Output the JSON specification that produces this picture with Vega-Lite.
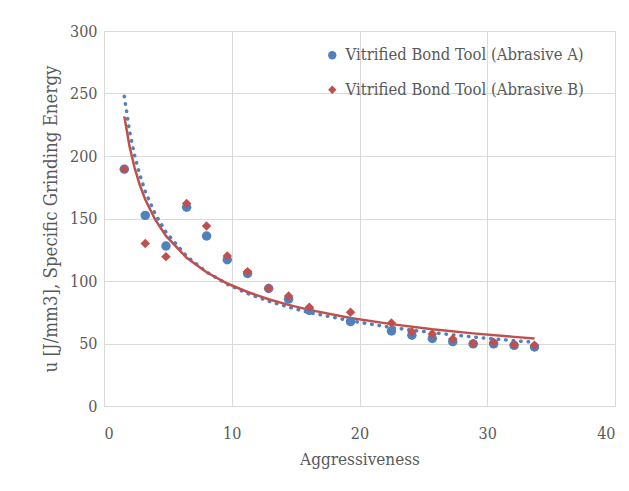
{
  "$schema": "https://vega.github.io/schema/vega-lite/v6.json",
  "width": 511,
  "height": 375,
  "autosize": {"type": "none"},
  "padding": {"left": 104, "top": 31, "right": 14, "bottom": 85},
  "background": "white",
  "datasets": {
    "points": [
      {"series": "Vitrified Bond Tool (Abrasive A)", "x": 1.59, "y": 189.5},
      {"series": "Vitrified Bond Tool (Abrasive A)", "x": 3.23, "y": 152.5},
      {"series": "Vitrified Bond Tool (Abrasive A)", "x": 4.85, "y": 128},
      {"series": "Vitrified Bond Tool (Abrasive A)", "x": 6.47, "y": 159},
      {"series": "Vitrified Bond Tool (Abrasive A)", "x": 8.03, "y": 136},
      {"series": "Vitrified Bond Tool (Abrasive A)", "x": 9.65, "y": 117},
      {"series": "Vitrified Bond Tool (Abrasive A)", "x": 11.24, "y": 106},
      {"series": "Vitrified Bond Tool (Abrasive A)", "x": 12.89, "y": 94},
      {"series": "Vitrified Bond Tool (Abrasive A)", "x": 14.45, "y": 85.5},
      {"series": "Vitrified Bond Tool (Abrasive A)", "x": 16.07, "y": 76.5},
      {"series": "Vitrified Bond Tool (Abrasive A)", "x": 19.3, "y": 67.5},
      {"series": "Vitrified Bond Tool (Abrasive A)", "x": 22.5, "y": 60},
      {"series": "Vitrified Bond Tool (Abrasive A)", "x": 24.1, "y": 56.6},
      {"series": "Vitrified Bond Tool (Abrasive A)", "x": 25.7, "y": 54},
      {"series": "Vitrified Bond Tool (Abrasive A)", "x": 27.3, "y": 51.5},
      {"series": "Vitrified Bond Tool (Abrasive A)", "x": 28.9, "y": 49.7},
      {"series": "Vitrified Bond Tool (Abrasive A)", "x": 30.5, "y": 49.7},
      {"series": "Vitrified Bond Tool (Abrasive A)", "x": 32.1, "y": 48.5},
      {"series": "Vitrified Bond Tool (Abrasive A)", "x": 33.7, "y": 47.2},
      {"series": "Vitrified Bond Tool (Abrasive B)", "x": 1.59, "y": 189.5},
      {"series": "Vitrified Bond Tool (Abrasive B)", "x": 3.23, "y": 130},
      {"series": "Vitrified Bond Tool (Abrasive B)", "x": 4.85, "y": 119.5},
      {"series": "Vitrified Bond Tool (Abrasive B)", "x": 6.47, "y": 162},
      {"series": "Vitrified Bond Tool (Abrasive B)", "x": 8.03, "y": 144},
      {"series": "Vitrified Bond Tool (Abrasive B)", "x": 9.65, "y": 120},
      {"series": "Vitrified Bond Tool (Abrasive B)", "x": 11.24, "y": 107.5},
      {"series": "Vitrified Bond Tool (Abrasive B)", "x": 12.89, "y": 94.3},
      {"series": "Vitrified Bond Tool (Abrasive B)", "x": 14.45, "y": 88},
      {"series": "Vitrified Bond Tool (Abrasive B)", "x": 16.07, "y": 79},
      {"series": "Vitrified Bond Tool (Abrasive B)", "x": 19.3, "y": 75},
      {"series": "Vitrified Bond Tool (Abrasive B)", "x": 22.5, "y": 66.4},
      {"series": "Vitrified Bond Tool (Abrasive B)", "x": 24.1, "y": 59.5},
      {"series": "Vitrified Bond Tool (Abrasive B)", "x": 25.7, "y": 57.6},
      {"series": "Vitrified Bond Tool (Abrasive B)", "x": 27.3, "y": 53.6},
      {"series": "Vitrified Bond Tool (Abrasive B)", "x": 28.9, "y": 50.2},
      {"series": "Vitrified Bond Tool (Abrasive B)", "x": 30.5, "y": 51},
      {"series": "Vitrified Bond Tool (Abrasive B)", "x": 32.1, "y": 49.1},
      {"series": "Vitrified Bond Tool (Abrasive B)", "x": 33.7, "y": 48.6}
    ],
    "trendA": [
      {"x": 1.59, "y": 247.8}, {"x": 2.0, "y": 220.0}, {"x": 2.4, "y": 200.2}, {"x": 2.8, "y": 184.9},
      {"x": 3.23, "y": 171.7}, {"x": 4.0, "y": 153.7}, {"x": 4.85, "y": 139.1}, {"x": 6.47, "y": 119.8},
      {"x": 8.03, "y": 107.2}, {"x": 9.65, "y": 97.4}, {"x": 11.24, "y": 90.0}, {"x": 12.89, "y": 83.9},
      {"x": 14.45, "y": 79.1}, {"x": 16.07, "y": 74.8}, {"x": 19.3, "y": 68.1}, {"x": 22.5, "y": 62.8},
      {"x": 25.7, "y": 58.7}, {"x": 28.9, "y": 55.2}, {"x": 32.1, "y": 52.3}, {"x": 33.7, "y": 51.0}
    ],
    "trendB": [
      {"x": 1.59, "y": 231.7}, {"x": 2.0, "y": 207.7}, {"x": 2.4, "y": 190.4}, {"x": 2.8, "y": 176.9},
      {"x": 3.23, "y": 165.2}, {"x": 4.0, "y": 149.2}, {"x": 4.85, "y": 136.1}, {"x": 6.47, "y": 118.6},
      {"x": 8.03, "y": 107.0}, {"x": 9.65, "y": 98.0}, {"x": 11.24, "y": 91.2}, {"x": 12.89, "y": 85.4},
      {"x": 14.45, "y": 80.9}, {"x": 16.07, "y": 76.9}, {"x": 19.3, "y": 70.4}, {"x": 22.5, "y": 65.5},
      {"x": 25.7, "y": 61.4}, {"x": 28.9, "y": 58.1}, {"x": 32.1, "y": 55.3}, {"x": 33.7, "y": 54.0}
    ]
  },
  "encoding": {
    "x": {
      "field": "x", "type": "quantitative",
      "scale": {"domain": [0, 40], "nice": false, "zero": true},
      "axis": {"title": "Aggressiveness", "values": [0, 10, 20, 30, 40], "tickSize": 0, "labelPadding": 19, "titlePadding": 10, "titleFontSize": 17}
    },
    "y": {
      "field": "y", "type": "quantitative",
      "scale": {"domain": [0, 300], "nice": false},
      "axis": {"title": "u [J/mm3], Specific Grinding Energy", "values": [0, 50, 100, 150, 200, 250, 300], "tickSize": 0, "labelPadding": 7, "titlePadding": 9, "titleFontSize": 18.5}
    }
  },
  "layer": [
    {
      "data": {"name": "trendA"},
      "mark": {"type": "line", "color": "#4F81BD", "strokeWidth": 3.5, "strokeDash": [0.5, 7], "strokeCap": "round"}
    },
    {
      "data": {"name": "trendB"},
      "mark": {"type": "line", "color": "#C0504D", "strokeWidth": 2.5}
    },
    {
      "data": {"name": "points"},
      "mark": {"type": "point", "filled": true, "opacity": 1, "size": 90},
      "encoding": {
        "color": {
          "field": "series", "type": "nominal",
          "scale": {"domain": ["Vitrified Bond Tool (Abrasive A)", "Vitrified Bond Tool (Abrasive B)"], "range": ["#4F81BD", "#C0504D"]},
          "legend": {"title": null, "orient": "none", "legendX": 220, "legendY": 16}
        },
        "shape": {
          "field": "series", "type": "nominal",
          "scale": {"domain": ["Vitrified Bond Tool (Abrasive A)", "Vitrified Bond Tool (Abrasive B)"], "range": ["circle", "diamond"]},
          "legend": {"title": null, "orient": "none", "legendX": 220, "legendY": 16}
        }
      }
    }
  ],
  "config": {
    "view": {"stroke": null},
    "font": "DejaVu Serif Condensed",
    "axis": {
      "labelFont": "DejaVu Serif Condensed", "titleFont": "DejaVu Serif Condensed",
      "labelFontSize": 16, "titleFontWeight": "normal",
      "labelColor": "#595959", "titleColor": "#595959",
      "gridColor": "#d9d9d9", "gridWidth": 1,
      "domainColor": "#d9d9d9", "domainWidth": 1
    },
    "legend": {
      "labelFont": "DejaVu Serif Condensed", "labelFontSize": 16.5, "labelColor": "#595959",
      "symbolSize": 70, "labelOffset": 5, "rowPadding": 17.5, "padding": 0, "labelLimit": 400,
      "symbolStrokeWidth": 0
    }
  }
}
